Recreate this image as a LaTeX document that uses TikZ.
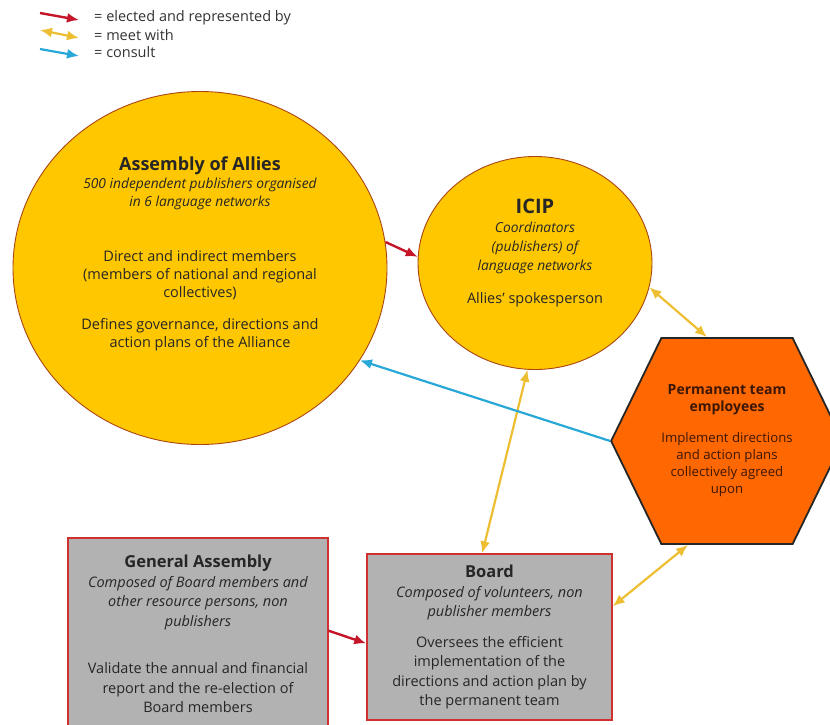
\documentclass[tikz,border=0pt]{standalone}
\usepackage{fontspec}
\setmainfont{Open Sans}
\usetikzlibrary{positioning, arrows, arrows.meta, shapes}
\definecolor{allyYellow}{RGB}{255,199,0}
\definecolor{circBorder}{RGB}{170,70,20}
\definecolor{teamOrange}{RGB}{255,104,0}
\definecolor{boxGray}{RGB}{178,178,178}
\definecolor{boxRed}{RGB}{208,48,48}
\definecolor{arrRed}{RGB}{196,22,40}
\definecolor{arrYellow}{RGB}{238,190,50}
\definecolor{arrBlue}{RGB}{40,168,214}
\definecolor{teamText}{RGB}{60,22,6}

\begin{document}
\begin{tikzpicture}[x=1pt, y=-1pt,
	circ/.style={draw=circBorder, line width=0.9pt, fill=allyYellow, ellipse, inner sep=0pt},
	box/.style={draw=boxRed, line width=1.4pt, fill=boxGray, rectangle, inner sep=0pt},
	txt/.style={align=center, inner sep=0pt, text=black!85, font=\fontsize{14.5}{18}\selectfont},
	key/.style={anchor=west, inner sep=0pt, text=black!80, font=\fontsize{14.5}{14}\selectfont},
	elect/.style={-{Latex[length=12pt,width=10pt]}, line width=2.4pt, draw=arrRed},
	meet/.style={{Latex[length=12pt,width=10pt]}-{Latex[length=12pt,width=10pt]}, line width=2.2pt, 
	draw=arrYellow},
	consult/.style={-{Latex[length=12pt,width=10pt]}, line width=2.2pt, draw=arrBlue}]
		\useasboundingbox (0,0) rectangle (830,724);
		
		%Legend
		\coordinate (redFrom) at (40,13);
		\coordinate (redTo) at (79,20);
		\coordinate (yellowFrom) at (40,30);
		\coordinate (yellowTo) at (79,38);
		\coordinate (blueFrom) at (40,49);
		\coordinate (blueTo) at (79,56);
		\node (redKey) at (94,18) [key]{= elected and represented by};
		\node (yellowKey) at (94,35) [key]{= meet with};
		\node (blueKey) at (94,52) [key]{= consult};
		\draw[elect] (redFrom) -- (redTo);
		\draw[meet] (yellowFrom) -- (yellowTo);
		\draw[consult] (blueFrom) -- (blueTo);
		
		%Shapes
		\node (allies) at (200,268) [circ, minimum width=374pt, minimum height=353pt]{};
		
		\node (icip) at (535,263) [circ, minimum width=234pt, minimum height=213pt]{};
		
		\node (team) at (727,441) [signal, signal to=west and east, signal pointer angle=128, 
		draw=black!85, line width=1.8pt, fill=teamOrange, minimum width=230pt, minimum 
		height=206pt, inner sep=0pt, align=center, text=teamText, 
		font=\fontsize{13.2}{17}\selectfont]{{\fontsize{14}{20}\selectfont\bfseries Permanent 
		team}\\{\fontsize{14}{20}\selectfont\bfseries employees}\\[14pt]Implement directions\\and 
		action plans\\collectively agreed\\upon};
		
		\node (genAssembly) at (198,633) [box, minimum width=260pt, minimum height=190pt]{};
		
		\node (board) at (489.5,637) [box, minimum width=245pt, minimum height=166pt]{};
		
		%Texts
		\node (alliesText) at (200,157) [txt, anchor=north]{{\fontsize{18}{20}\selectfont\bfseries 
		Assembly of Allies}\\{\fontsize{13.8}{18}\selectfont\itshape 500 independent publishers 
		organised}\\{\fontsize{13.8}{18}\selectfont\itshape in 6 language networks}\\[37pt]Direct and 
		indirect members\\(members of national and regional\\collectives)\\[14pt]Defines governance, 
		directions and\\action plans of the Alliance};
		
		\node (icipText) at (535,199) [txt, anchor=north, 
		font=\fontsize{14.5}{19}\selectfont]{{\fontsize{20}{22}\selectfont\bfseries 
		ICIP}\\{\fontsize{13.8}{19}\selectfont\itshape Coordinators}\\{\fontsize{13.8}{19}\selectfont\itshape 
		(publishers) of}\\{\fontsize{13.8}{19}\selectfont\itshape language networks}\\[14pt]Allies' 
		spokesperson};
		
		\node (genAssemblyText) at (198,555) [txt, anchor=north, 
		font=\fontsize{14.5}{19.5}\selectfont]{{\fontsize{16.5}{18}\selectfont\bfseries General 
		Assembly}\\\textit{Composed of Board members and}\\\textit{other resource persons, 
		non}\\\textit{publishers}\\[28pt]Validate the annual and financial\\report and the re-election 
		of\\Board members};
		
		\node (boardText) at (489.5,565) [txt, anchor=north, 
		font=\fontsize{14.5}{19.3}\selectfont]{{\fontsize{16.5}{18}\selectfont\bfseries 
		Board}\\\textit{Composed of volunteers, non}\\\textit{publisher members}\\[12pt]Oversees the 
		efficient\\implementation of the\\directions and action plan by\\the permanent team};
		
		%Links
		\draw[elect] (allies.8) -- (icip.177);
		\draw[elect] (genAssembly.1) -- (board.183);
		\draw[meet] (icip.266) -- (board.95);
		\draw[meet] (icip.348) -- ([xshift=-20pt]team.north);
		\draw[meet] (board.14) -- ([xshift=-39pt]team.south);
		\draw[consult] (team.west) -- (allies.330);
		
\end{tikzpicture}
\end{document}
